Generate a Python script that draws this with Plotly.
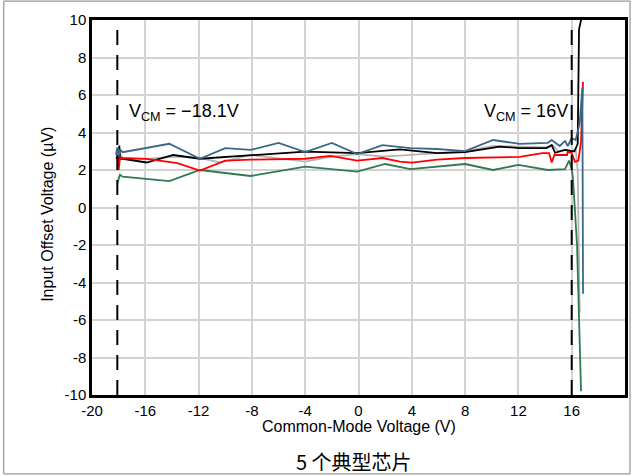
import plotly.graph_objects as go

# ---- data ----
blue_x = [-18.2, -18.1, -18.0, -17.9, -17.7, -14.2, -11.9, -10.0, -8.1, -6.0, -4.0, -2.0, -0.1, 1.8, 3.9, 5.9, 8.0, 10.1, 12.1, 14.2, 14.5, 15.1, 15.5, 15.7, 16.0, 16.3, 16.6, 16.8, 16.85]
blue_y = [2.8, 3.2, 2.7, 3.1, 2.95, 3.4, 2.6, 3.17, 3.07, 3.44, 2.96, 3.44, 2.85, 3.33, 3.17, 3.12, 3.01, 3.6, 3.39, 3.45, 3.6, 3.28, 3.55, 3.28, 3.7, 3.6, 4.5, 6.4, -4.6]

black_x = [-18.0, -17.95, -17.9, -17.7, -15.9, -13.9, -11.9, -8.1, -4.0, -0.1, 3.1, 5.9, 8.0, 10.6, 12.1, 14.1, 14.5, 14.75, 15.5, 16.0, 16.2, 16.45, 16.5, 16.55, 16.7, 16.8]
black_y = [2.3, 3.3, 2.6, 2.6, 2.4, 2.8, 2.6, 2.8, 2.98, 2.9, 3.1, 2.9, 2.95, 3.25, 3.17, 3.17, 3.33, 2.92, 3.07, 3.0, 3.0, 3.4, 7.0, 9.5, 10.0, 10.3]

red_x = [-18.2, -18.1, -18.0, -17.9, -17.7, -15.9, -13.6, -11.9, -10.0, -8.1, -4.0, -2.1, -0.1, 1.8, 3.1, 4.0, 5.9, 8.0, 12.1, 13.8, 14.3, 14.5, 14.7, 15.65, 15.7, 16.0, 16.25, 16.5, 16.7, 16.85]
red_y = [2.6, 2.7, 2.0, 2.65, 2.64, 2.59, 2.37, 1.97, 2.5, 2.55, 2.6, 2.75, 2.5, 2.64, 2.45, 2.39, 2.55, 2.64, 2.7, 2.9, 2.9, 2.4, 2.8, 2.8, 2.96, 2.9, 2.43, 2.5, 3.5, 6.7]

gray_x = [-18.0, -17.9, -17.7, -15.9, -13.6, -11.9, -10.4, -8.1, -4.0, -2.1, -0.1, 1.8, 3.1, 5.9, 8.0, 10.1, 12.1, 14.2, 14.6, 15.0, 15.6, 16.0, 16.3, 16.45, 16.6]
gray_y = [2.4, 2.9, 2.6, 2.59, 2.72, 2.65, 2.4, 2.8, 2.45, 2.7, 2.85, 2.72, 2.77, 2.9, 3.0, 3.28, 3.25, 3.2, 3.3, 3.0, 3.1, 3.0, 3.1, 2.0, -5.6]

green_x = [-18.1, -17.9, -17.7, -14.2, -11.9, -8.1, -4.0, -0.1, 2.0, 3.9, 8.0, 10.1, 12.0, 14.2, 15.5, 15.8, 16.0, 16.1, 16.4, 16.55, 16.7]
green_y = [1.3, 1.75, 1.64, 1.41, 2.0, 1.68, 2.18, 1.91, 2.32, 2.05, 2.32, 2.0, 2.27, 2.0, 2.05, 2.5, 2.1, 1.5, -2.0, -5.6, -9.8]

vcm_limits = [-18.1, 16]
x_ticks = list(range(-20, 21, 4))
y_ticks = list(range(-10, 11, 2))

series = [
    (gray_x, gray_y, "#b5b5b5"),
    (green_x, green_y, "#2f7a50"),
    (black_x, black_y, "#000000"),
    (red_x, red_y, "#ff0000"),
    (blue_x, blue_y, "#3b6786"),
]

fig = go.Figure()
for xs, ys, c in series:
    fig.add_trace(go.Scatter(x=xs, y=ys, mode="lines", line=dict(color=c, width=1.8),
                             showlegend=False, hoverinfo="skip"))

for v in vcm_limits:
    fig.add_shape(type="line", x0=v, x1=v, y0=-10, y1=10, xref="x", yref="y",
                  line=dict(color="black", width=2, dash="15px,10px"), layer="above")

ann_font = dict(family="Liberation Sans, Arial", size=18, color="black")
fig.add_annotation(x=-17.4, y=5.05, xref="x", yref="y", xanchor="left", yanchor="middle",
                   text="V<sub>CM</sub> = \u221218.1V", showarrow=False, font=ann_font)
fig.add_annotation(x=9.3, y=5.05, xref="x", yref="y", xanchor="left", yanchor="middle",
                   text="V<sub>CM</sub> = 16V", showarrow=False, font=ann_font)

title_font = dict(family="Liberation Sans, Arial", size=16, color="black")
fig.add_annotation(x=0.5, y=-0.0853, xref="paper", yref="paper", xanchor="center", yanchor="middle",
                   text="Common-Mode Voltage (V)", showarrow=False, font=title_font)
fig.add_annotation(x=-0.0826, y=0.483, xref="paper", yref="paper", xanchor="center", yanchor="middle",
                   text="Input Offset Voltage (µV)", textangle=-90, showarrow=False, font=title_font)

fig.add_annotation(x=0.491, y=-0.176, xref="paper", yref="paper", xanchor="center", yanchor="middle",
                   text="5 个典型芯片", showarrow=False,
                   font=dict(family="Noto Sans CJK SC, Liberation Sans", size=20, color="black"))

# outer frame
fig.add_shape(type="rect", xref="paper", yref="paper", x0=-0.1655, x1=1.0094, y0=-0.2105, y1=1.0505,
              line=dict(color="#7f7f7f", width=1))

tick_font = dict(family="Liberation Sans, Arial", size=15, color="black")
fig.update_xaxes(range=[-20, 20], tickvals=x_ticks, ticktext=[str(t) for t in x_ticks],
                 showgrid=True, gridcolor="#d3d3d3", gridwidth=1.5, zeroline=False,
                 showline=True, linecolor="black", linewidth=2.5, mirror=True, ticks="",
                 tickfont=tick_font, automargin=False)
fig.update_yaxes(range=[-10, 10], tickvals=y_ticks, ticktext=[str(t) for t in y_ticks],
                 showgrid=True, gridcolor="#d3d3d3", gridwidth=1.5, zeroline=False,
                 showline=True, linecolor="black", linewidth=2.5, mirror=True, ticks="",
                 tickfont=tick_font, automargin=False)

fig.update_layout(width=633, height=476, margin=dict(l=92, r=8, t=20, b=81, autoexpand=False),
                  paper_bgcolor="white", plot_bgcolor="white",
                  font=dict(family="Liberation Sans, Arial"))

fig.write_html("out.html")
